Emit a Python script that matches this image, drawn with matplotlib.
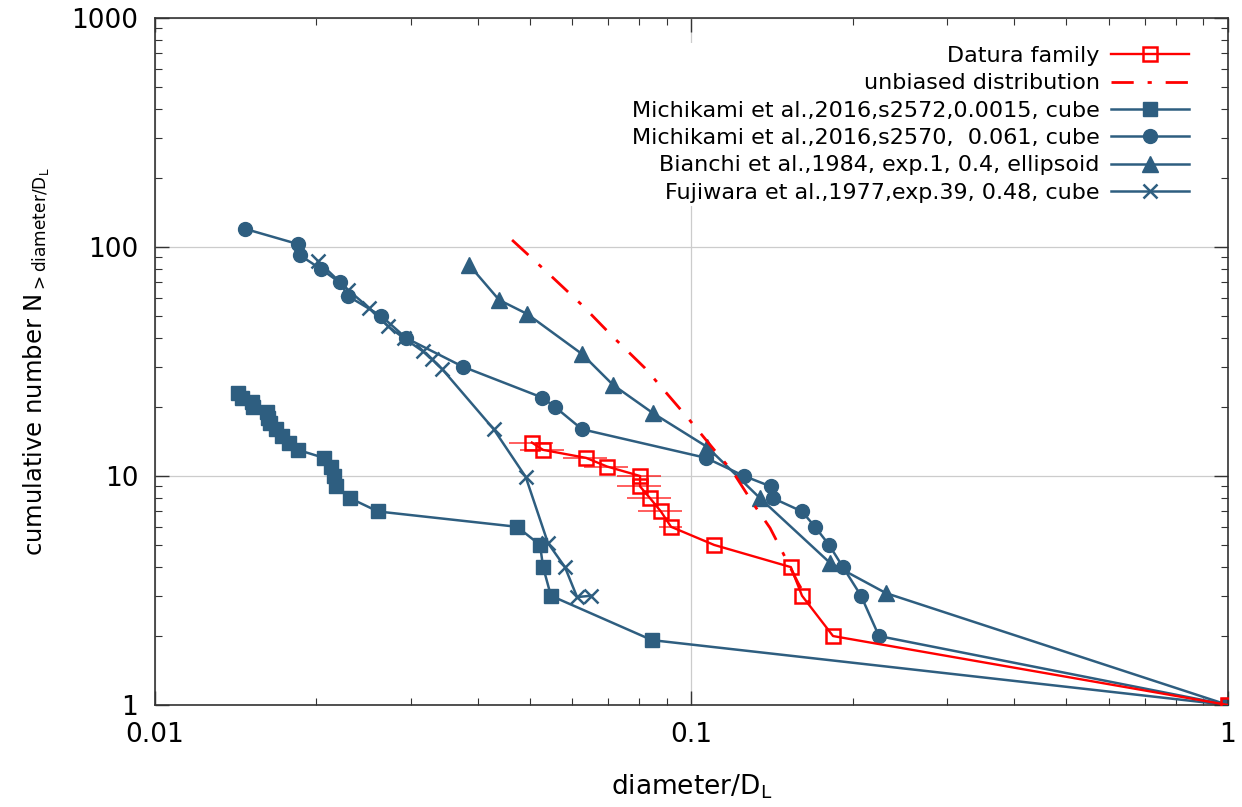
import numpy as np
import matplotlib
matplotlib.use('Agg')
import matplotlib.pyplot as plt
from matplotlib.ticker import LogLocator, NullFormatter, FixedLocator, FixedFormatter

# Datura family (open red squares, horizontal error bars)
datura_x = [0.0504, 0.0529, 0.0636, 0.0696, 0.0802, 0.0802, 0.0837, 0.0877, 0.0916,
            0.1102, 0.1532, 0.1607, 0.1836, 1.0]
datura_n = [14, 13, 12, 11, 10, 9, 8, 7, 6, 5, 4, 3, 2, 1]
datura_xerr = [0.0047, 0.0050, 0.0060, 0.0065, 0.0076, 0.0076, 0.0079, 0.0082, 0.0045,
               0, 0, 0, 0, 0]

# unbiased distribution (dash-dot)
unb_x = [0.0463, 0.0540, 0.0625, 0.0714, 0.0819, 0.0981, 0.1115, 0.1195, 0.1302,
         0.1401, 0.1481, 0.158, 0.1677]
unb_n = [107.3, 77.0, 55.8, 40.5, 29.6, 18.1, 12.6, 10.4, 7.6, 5.93, 4.61, 3.41, 2.68]

# Michikami et al. 2016, s2572
s2572_x = [0.01428, 0.01453, 0.01516, 0.01523, 0.01617, 0.01624, 0.01638, 0.01681,
           0.01725, 0.01778, 0.01847, 0.02065, 0.02129, 0.02157, 0.02175, 0.02309,
           0.02604, 0.0473, 0.0522, 0.0529, 0.0547, 0.0844, 1.0]
s2572_n = [23, 22, 21, 20, 19, 18, 17, 16, 15, 14, 13, 12, 11, 10, 9, 8, 7, 6, 5, 4, 3,
           1.92, 1]

# Michikami et al. 2016, s2570
s2570_x = [0.01472, 0.01846, 0.01863, 0.0204, 0.0221, 0.0229, 0.0264, 0.0294, 0.0375,
           0.0527, 0.0557, 0.0625, 0.1064, 0.1253, 0.1406, 0.1419, 0.1607, 0.1699,
           0.1805, 0.1916, 0.207, 0.2236, 1.0]
s2570_n = [120, 103, 92, 80, 70, 61, 50, 40, 30, 22, 20, 16, 12, 10, 9, 8, 7, 6, 5, 4, 3,
           2, 1]

# Bianchi et al. 1984
bianchi_x = [0.0385, 0.0438, 0.0494, 0.0625, 0.0714, 0.0848, 0.1069, 0.1342, 0.1813,
             0.2304, 1.0]
bianchi_n = [83.5, 58.7, 51, 34.1, 25.0, 18.8, 13.4, 8.0, 4.17, 3.08, 1]

# Fujiwara et al. 1977
fuji_x = [0.0201, 0.0229, 0.0251, 0.0272, 0.0291, 0.0316, 0.0328, 0.0343, 0.0428,
          0.0491, 0.0540, 0.0581, 0.0612, 0.0650]
fuji_n = [87, 65, 54, 45, 40, 35, 32.4, 29.3, 16, 9.9, 5.1, 4, 2.96, 3]

blue = '#2e5e80'
red = '#ff0000'

fig = plt.figure(figsize=(12.42, 8.07), dpi=100)
ax = fig.add_axes([0.1248, 0.1264, 0.8639, 0.8513])

ax.errorbar(datura_x, datura_n, xerr=datura_xerr, fmt='none', ecolor=red,
            elinewidth=1.1, alpha=0.8, capsize=0, zorder=3)
ax.plot(datura_x, datura_n, color=red, lw=1.7, marker='s', ms=10, mfc='none',
        mec=red, mew=1.8, label='Datura family', zorder=5)
ax.plot(unb_x, unb_n, color=red, lw=2.0, ls=(0, (8, 5, 1.5, 5)),
        label='unbiased distribution', zorder=4)
ax.plot(s2572_x, s2572_n, color=blue, lw=1.8, marker='s', ms=10,
        label='Michikami et al.,2016,s2572,0.0015, cube', zorder=2)
ax.plot(s2570_x, s2570_n, color=blue, lw=1.8, marker='o', ms=10,
        label='Michikami et al.,2016,s2570,  0.061, cube', zorder=2)
ax.plot(bianchi_x, bianchi_n, color=blue, lw=1.8, marker='^', ms=11,
        label='Bianchi et al.,1984, exp.1, 0.4, ellipsoid', zorder=2)
ax.plot(fuji_x, fuji_n, color=blue, lw=1.8, marker='x', ms=10, mew=1.8,
        label='Fujiwara et al.,1977,exp.39, 0.48, cube', zorder=2)

ax.set_xscale('log')
ax.set_yscale('log')
ax.set_xlim(0.01, 1)
ax.set_ylim(1, 1000)

ax.xaxis.set_major_locator(FixedLocator([0.01, 0.1, 1]))
ax.xaxis.set_major_formatter(FixedFormatter(['0.01', '0.1', '1']))
ax.yaxis.set_major_locator(FixedLocator([1, 10, 100, 1000]))
ax.yaxis.set_major_formatter(FixedFormatter(['1', '10', '100', '1000']))
ax.xaxis.set_minor_locator(LogLocator(base=10, subs=np.arange(2, 10)))
ax.yaxis.set_minor_locator(LogLocator(base=10, subs=np.arange(2, 10)))
ax.xaxis.set_minor_formatter(NullFormatter())
ax.yaxis.set_minor_formatter(NullFormatter())

ax.tick_params(which='both', direction='in', top=True, right=True, labelsize=19,
               color='#333333')
ax.tick_params(which='major', length=10, width=1, pad=12)
ax.tick_params(which='minor', length=5, width=0.8)
for s in ax.spines.values():
    s.set_linewidth(1.2)
    s.set_color('#333333')

ax.grid(True, which='major', color='#cccccc', lw=0.9)
ax.set_axisbelow(True)

ax.set_xlabel('diameter/D$_\\mathregular{L}$', fontsize=19, labelpad=18)
ax.set_ylabel('cumulative number N$_\\mathregular{>diameter/D_L}$', fontsize=17.5,
              labelpad=14)

leg = ax.legend(loc='upper right', bbox_to_anchor=(0.9665, 0.964), fontsize=16,
                markerfirst=False, frameon=True, framealpha=1, edgecolor='none',
                facecolor='white', handlelength=3.5, labelspacing=0.33,
                borderaxespad=0, borderpad=0.15, handletextpad=0.5)
for t in leg.get_texts():
    t.set_ha('right')
leg._legend_box.align = 'right'

fig.savefig('out.png', dpi=100)
